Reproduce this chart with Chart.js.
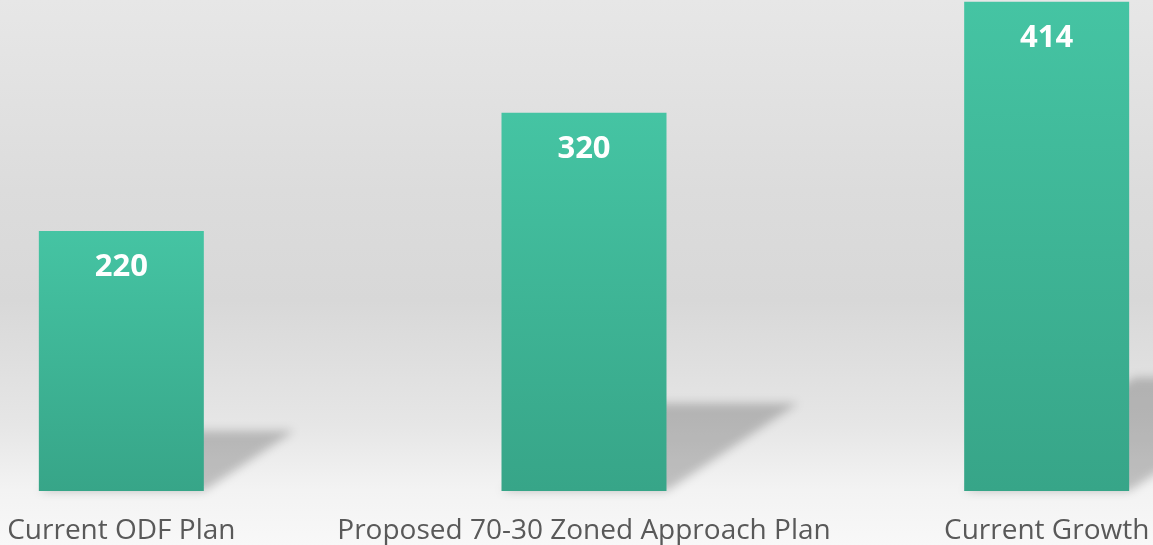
<!DOCTYPE html>
<html>
<head>
<meta charset="utf-8">
<script src="https://cdn.jsdelivr.net/npm/chart.js@4/dist/chart.umd.min.js"></script>
<style>
  html, body { margin: 0; padding: 0; width: 1153px; height: 545px; overflow: hidden;
    background: linear-gradient(to bottom, #e7e7e7 0%, #dcdcdc 35%, #d8d8d8 55%, #e6e6e6 78%, #f3f3f3 90%, #f8f8f8 100%); }
  #wrap { position: absolute; left: -110px; top: 0; width: 1388px; height: 545px; }
</style>
</head>
<body>
<div id="wrap"><canvas id="c"></canvas></div>
<script>
const categories = ["Current ODF Plan", "Proposed 70-30 Zoned Approach Plan", "Current Growth"];
const values = [220, 320, 414];
const yMax = 415.5;

const shadowPlugin = {
  id: 'barShadow',
  beforeDatasetsDraw(chart) {
    const ctx = chart.ctx;
    const meta = chart.getDatasetMeta(0);
    ctx.save();
    ctx.filter = 'blur(5px)';
    ctx.fillStyle = 'rgba(0,0,0,0.21)';
    meta.data.forEach(el => {
      const left = el.x - el.width / 2, right = el.x + el.width / 2;
      const h = (el.base - el.y) * 0.232;
      const dx = h * 1.5;
      ctx.beginPath();
      ctx.moveTo(left, el.base);
      ctx.lineTo(right, el.base);
      ctx.lineTo(right + dx, el.base - h);
      ctx.lineTo(left + dx, el.base - h);
      ctx.closePath();
      ctx.fill();
    });
    ctx.restore();
  }
};

const labelPlugin = {
  id: 'barLabels',
  afterDatasetsDraw(chart) {
    const ctx = chart.ctx;
    const meta = chart.getDatasetMeta(0);
    ctx.save();
    ctx.fillStyle = '#ffffff';
    ctx.font = 'bold 31px "Open Sans", sans-serif';
    ctx.textAlign = 'center';
    ctx.textBaseline = 'alphabetic';
    meta.data.forEach((el, i) => {
      ctx.fillText(String(values[i]), el.x, el.y + 45);
    });
    ctx.restore();
  }
};

new Chart(document.getElementById('c'), {
  type: 'bar',
  data: {
    labels: categories,
    datasets: [{
      data: values,
      backgroundColor: (c) => {
        const chart = c.chart;
        if (!chart.chartArea || c.raw === undefined) return '#3fb596';
        const y = chart.scales.y;
        const top = y.getPixelForValue(c.raw);
        const bot = y.getPixelForValue(0);
        const g = chart.ctx.createLinearGradient(0, top, 0, bot);
        g.addColorStop(0, '#45c4a3');
        g.addColorStop(1, '#37a588');
        return g;
      },
      borderWidth: 0,
      categoryPercentage: 1,
      barPercentage: 0.3566
    }]
  },
  options: {
    responsive: true,
    maintainAspectRatio: false,
    animation: false,
    layout: { padding: 0 },
    plugins: { legend: { display: false }, tooltip: { enabled: false } },
    scales: {
      x: {
        grid: { display: false, drawTicks: false },
        border: { display: false },
        afterFit: (scale) => { scale.height = 54; },
        ticks: { color: '#595959', font: { family: '"Open Sans", sans-serif', size: 28, lineHeight: 1.2 }, padding: 23, maxRotation: 0, autoSkip: false }
      },
      y: { display: false, min: 0, max: yMax }
    }
  },
  plugins: [shadowPlugin, labelPlugin]
});
</script>
</body>
</html>
